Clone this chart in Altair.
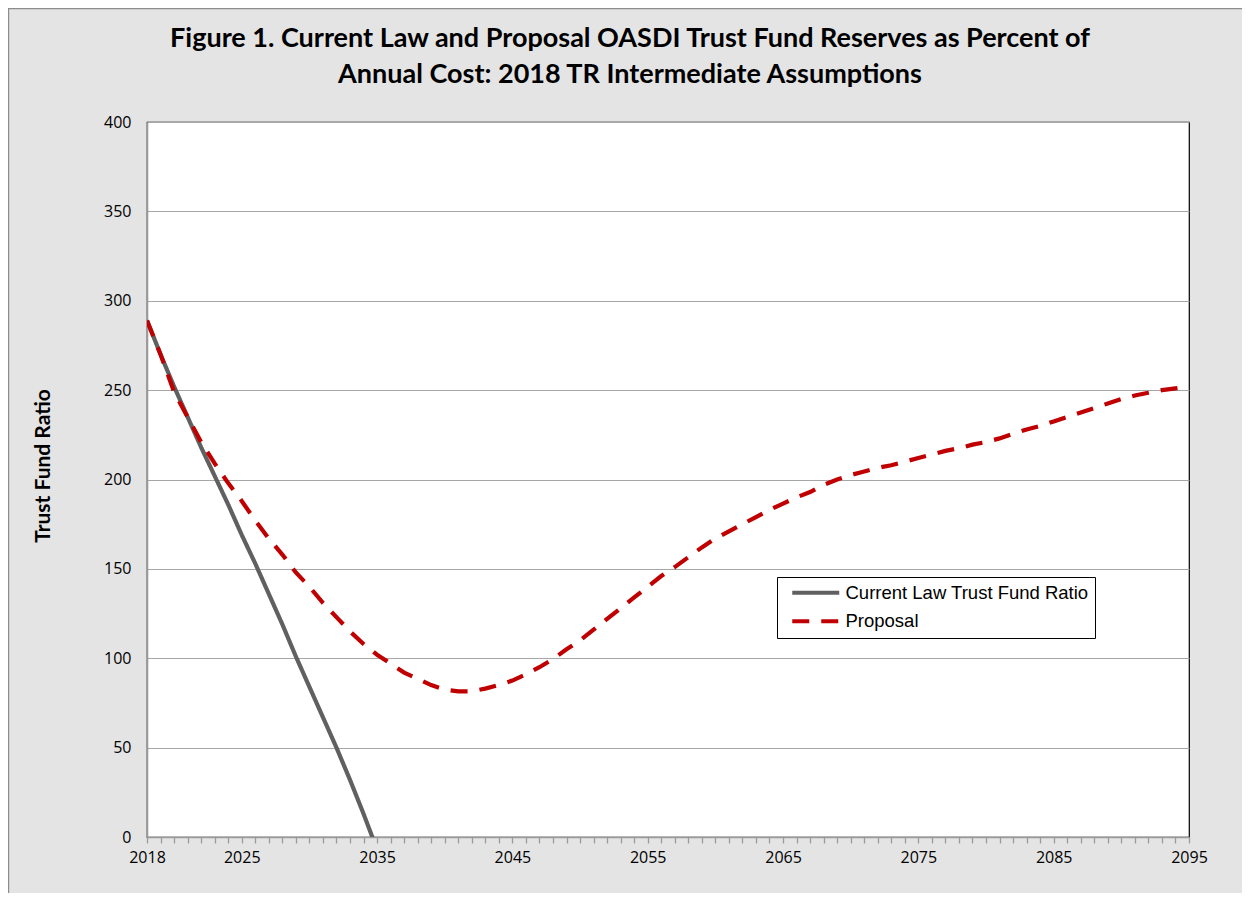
import altair as alt
import pandas as pd

# ---------------- data ----------------
series_names = ["Current Law Trust Fund Ratio", "Proposal"]

current_law_years = list(range(2018, 2036))
current_law = [289, 270, 252, 235, 218, 202, 186, 169, 153, 136,
               119, 101, 84, 67, 50, 32, 13, -7]

proposal_years = list(range(2018, 2096))
proposal = [289, 270, 249, 235, 221, 209, 198, 188, 177, 167,      # 2018-2027
            158, 148, 140, 131, 123, 115, 108, 102, 97, 92,        # 2028-2037
            88.5, 85, 82.5, 81.5, 81.5, 83, 85, 87.5, 91, 95,      # 2038-2047
            99.5, 105, 110, 116, 122, 128, 134, 140, 146, 151,     # 2048-2057
            156.5, 162, 167, 171, 175, 179, 183, 186.5, 190, 193,  # 2058-2067
            197, 200, 202.5, 204.5, 206.5, 208, 210, 212, 214, 216,  # 2068-2077
            217.5, 219.5, 221, 223, 225.5, 228, 230, 232.5, 235, 237.5,  # 2078-2087
            240, 242.5, 245, 247, 248.5, 250, 251, 252]            # 2088-2095

x_label_years = [2018, 2025, 2035, 2045, 2055, 2065, 2075, 2085, 2095]
y_ticks = [0, 50, 100, 150, 200, 250, 300, 350, 400]

title_lines = ["Figure 1. Current Law and Proposal OASDI Trust Fund Reserves as Percent of",
               "Annual Cost: 2018 TR Intermediate Assumptions"]

rows = [{"year": y, "value": v, "series": series_names[0]} for y, v in zip(current_law_years, current_law)]
rows += [{"year": y, "value": v, "series": series_names[1]} for y, v in zip(proposal_years, proposal)]
df = pd.DataFrame(rows)

# ---------------- layout ----------------
W, H = 1042, 715
PAD_L, PAD_T, PAD_R, PAD_B = 139, 114, 53, 56

label_set = ",".join(str(v) for v in x_label_years)
x_label_expr = f"indexof([{label_set}], datum.value) >= 0 ? datum.label : ''"

x_axis = alt.Axis(
    values=proposal_years, format="d", labelExpr=x_label_expr, labelOverlap=False,
    labelFlush=False,
    labelFont="Open Sans", labelFontSize=16, labelColor="#000000", labelPadding=6,
    ticks=True, tickSize=6, tickColor="#9a9a9a", tickWidth=1.3,
    domainColor="#9a9a9a", domainWidth=1.6, grid=False, title=None,
)
y_axis = alt.Axis(
    values=y_ticks, format="d", labelFlush=False,
    labelFont="Open Sans", labelFontSize=16, labelColor="#000000", labelPadding=16,
    ticks=False, tickSize=0,
    domainColor="#9a9a9a", domainWidth=1.6,
    grid=True, gridColor="#a6a6a6", gridWidth=1.2,
    title="Trust Fund Ratio", titleFont="Lato", titleFontSize=21, titleFontWeight="bold",
    titleColor="#000000", titleAngle=-90, titleX=-104, titleY=H / 2 - 14,
    titleAlign="center", titleBaseline="middle",
)

legend = alt.Legend(
    title=None, orient="none", legendX=630, legendY=455,
    labelFont="Liberation Sans", labelFontSize=18.5, labelColor="#000000", labelLimit=500,
    symbolType="M-0.1,0H9.3", symbolStrokeWidth=4, symbolSize=100,
    fillColor="#ffffff", strokeColor="#000000", padding=6.5,
    rowPadding=9.5, labelOffset=43.5,
)

lines = alt.Chart(df).mark_line(strokeWidth=4.2, clip=True).encode(
    x=alt.X("year:Q", scale=alt.Scale(domain=[2018, 2095], nice=False, zero=False), axis=x_axis),
    y=alt.Y("value:Q", scale=alt.Scale(domain=[0, 400], nice=False), axis=y_axis),
    color=alt.Color("series:N", scale=alt.Scale(domain=series_names, range=["#606060", "#c00000"]),
                    legend=legend),
    strokeDash=alt.StrokeDash("series:N", scale=alt.Scale(domain=series_names, range=[[1, 0], [17, 12]]),
                              legend=legend),
    order="year:Q",
)

frame = alt.Chart(alt.Data(values=[{}])).mark_rect(
    fill=None, stroke="#8c8c8c", strokeWidth=1.2
).encode(
    x=alt.value(-PAD_L + 0.6), x2=alt.value(W + PAD_R + 20),
    y=alt.value(-PAD_T + 0.6), y2=alt.value(H + PAD_B + 20),
)

chart = alt.layer(frame, lines).properties(
    width=W, height=H,
    autosize=alt.AutoSizeParams(type="none"),
    padding={"left": PAD_L, "top": PAD_T, "right": PAD_R, "bottom": PAD_B},
    background="#e4e4e4",
    title=alt.Title(
        text=title_lines, font="Lato", fontSize=27, fontWeight="bold", color="#000000",
        anchor="middle", frame="group", dx=-38, offset=-81, lineHeight=36,
    ),
).configure_view(
    fill="#ffffff", stroke="#000000", strokeWidth=1.2,
)

chart.save("out.html", embed_options={"renderer": "svg", "actions": False})
